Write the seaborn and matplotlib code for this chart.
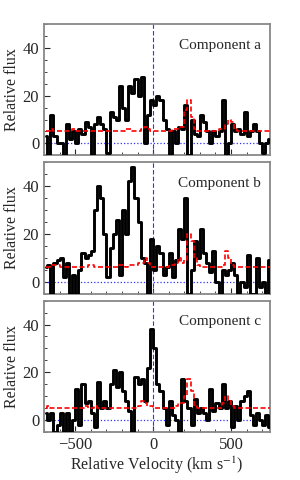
import numpy as np
import pandas as pd
import matplotlib
matplotlib.use('Agg')
import matplotlib.pyplot as plt
import seaborn as sns
from matplotlib.ticker import MultipleLocator

# velocity bin centres (km/s), 20 km/s bins
velocity = np.arange(-690, 760, 20)

flux_a = [3, -5, 12, 3, 0, 0, -5, 8, 2, 5, 0, 6, 4, 9, 7, -5, 8, 11, 8, 6,
          -4, 13, 11, 10, 24, 15, 10, 24, 21, 27, 20, 28, 0, 12, 18, 16, 20, 18, 10, 6,
          -5, 5, 0, 7, 6, 16, -5, 10, 4, 3, 12, 9, 5, 0, 5, 3, 5, 18, -5, 0,
          8, 5, 6, 4, 13, 3, 5, 8, 5, 0, -4, 0, 2]
noise_a = [5, 5, 6, 5, 5, 5, 5, 5, 5, 6, 5, 5, 5, 5, 5, 5, 5, 5, 5, 5,
           5, 5, 5, 5, 5, 5, 6, 6, 5, 5, 5, 6, 7, 6, 5, 5, 5, 5, 5, 5,
           5, 6, 6, 7, 7, 14, 18, 11, 6, 5, 5, 5, 5, 5, 5, 5, 6, 6, 8, 10,
           9, 6, 5, 5, 5, 5, 5, 5, 5, 5, 5, 5, 5]

flux_b = [6, 7, -5, 8, 9, 10, 2, 8, -5, 3, -5, 5, 12, 10, 11, 13, 30, 40, 35, 20,
          2, 14, 20, 26, 3, 30, 20, 42, 48, 35, 25, 10, 8, -5, 18, 5, 15, 12, 3, 6,
          12, 2, 9, 22, 18, 35, -5, 5, 17, 10, 22, 12, 8, 4, 13, 0, -5, 5, 3, 5,
          8, 3, -5, 0, -2, 11, -5, -5, 10, -2, 0, -5, 9]
noise_b = [6, 6, 7, 7, 7, 6, 6, 6, 6, 6, 6, 6, 6, 6, 7, 7, 6, 6, 6, 6,
           6, 6, 6, 6, 7, 7, 6, 7, 7, 7, 8, 8, 10, 8, 6, 6, 6, 6, 6, 6,
           7, 7, 8, 10, 8, 9, 20, 17, 10, 7, 6, 6, 6, 6, 6, 6, 6, 7, 13, 10,
           7, 6, 6, 6, 6, 6, 6, 6, 6, 6, 6, 6, 6]

flux_c = [3, 0, 3, -5, -2, 3, -5, 3, -5, 0, 13, -2, 15, 7, 8, 3, -3, 16, 5, 8,
          5, 15, 21, 14, 20, 12, 8, 4, -5, 18, 15, 17, 8, 22, 38, 30, 15, 12, 5, -2,
          8, 2, 0, -5, 17, 8, 5, -2, 9, 3, 5, 3, 0, 13, 4, 7, 5, 15, 5, 8,
          -3, 6, 0, 8, 10, 12, 2, -2, 3, 0, -2, 2, -3]
noise_c = [5, 6, 5, 5, 5, 5, 5, 5, 5, 5, 5, 5, 5, 6, 5, 5, 6, 5, 5, 5,
           5, 5, 5, 5, 5, 5, 5, 5, 5, 5, 6, 8, 7, 6, 6, 5, 5, 5, 5, 5,
           5, 5, 6, 7, 7, 10, 17, 12, 6, 5, 5, 5, 5, 5, 5, 5, 5, 7, 10, 8,
           6, 5, 5, 5, 5, 5, 5, 5, 5, 5, 5, 5, 5]

labels = ['Component a', 'Component b', 'Component c']

sns.set_style('ticks')
plt.rcParams['font.family'] = ['Liberation Serif', 'DejaVu Serif']
plt.rcParams['mathtext.fontset'] = 'stix'

fig, axes = plt.subplots(3, 1, figsize=(3.0, 4.8), dpi=100, sharex=True)
plt.subplots_adjust(left=0.147, right=0.9, top=0.95, bottom=0.1, hspace=0.053)

panels = [(flux_a, noise_a), (flux_b, noise_b), (flux_c, noise_c)]
for ax, (flux, noise), lab in zip(axes, panels, labels):
    df = pd.DataFrame({'v': velocity, 'flux': flux, 'noise': noise})
    ax.axhline(0, color='#3030ff', lw=0.9, ls=':', zorder=1)
    ax.axvline(0, color='#3030ff', lw=0.8, ls=(0, (4, 2)), zorder=1)
    sns.lineplot(data=df, x='v', y='flux', ax=ax, color='black', lw=2.1,
                 drawstyle='steps-mid', zorder=3)
    sns.lineplot(data=df, x='v', y='noise', ax=ax, color='red', lw=1.2,
                 linestyle=(0, (3, 1.5)), drawstyle='steps-mid', zorder=4)
    ax.set_xlim(-700, 750)
    ax.set_ylim(-5, 50)
    ax.set_ylabel('Relative flux', fontsize=11.5, labelpad=2)
    ax.set_xlabel('')
    ax.text(0.96, 0.84, lab, transform=ax.transAxes, ha='right', va='center',
            fontsize=11)
    ax.yaxis.set_major_locator(MultipleLocator(20))
    ax.yaxis.set_minor_locator(MultipleLocator(5))
    ax.xaxis.set_major_locator(MultipleLocator(500))
    ax.xaxis.set_minor_locator(MultipleLocator(100))
    ax.tick_params(which='both', direction='in', labelsize=12)
    ax.tick_params(which='major', length=4, width=0.8)
    ax.tick_params(which='minor', length=2, width=0.6)
    for sp in ax.spines.values():
        sp.set_color('#888888')
        sp.set_linewidth(1.3)
        sp.set_visible(True)

axes[-1].set_xlabel('Relative Velocity (km s$^{-1}$)', fontsize=11.5, labelpad=1)

plt.savefig('out.png', dpi=100)
